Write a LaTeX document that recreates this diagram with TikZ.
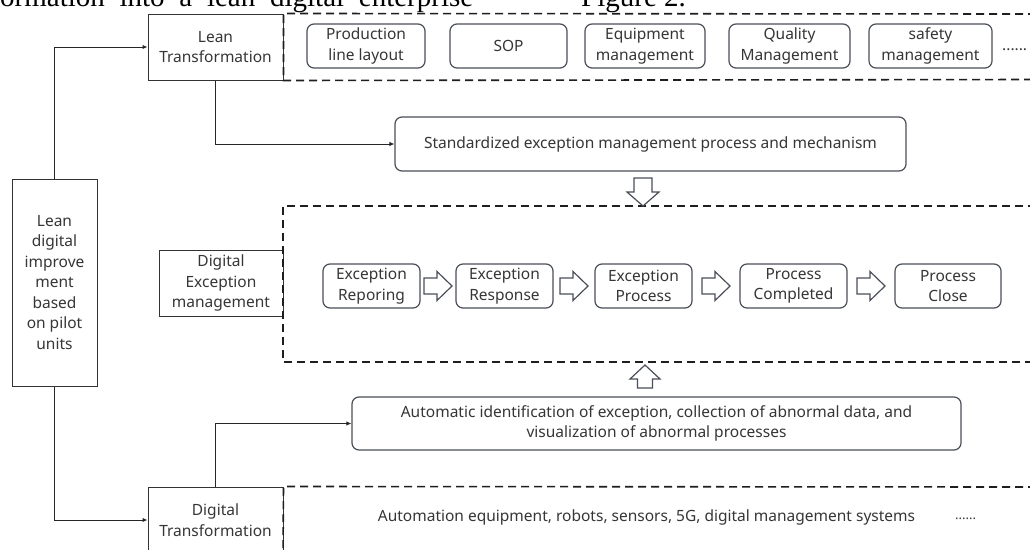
\documentclass[tikz,border=0pt]{standalone}
\usepackage{fontspec}
\setmainfont{Noto Sans}
\newfontfamily\captionserif{Liberation Serif}
\usetikzlibrary{arrows.meta,calc}

\definecolor{ink}{HTML}{363636}
\definecolor{edge}{HTML}{4A4F58}
\definecolor{dashcol}{HTML}{1E1E1E}

% hollow block arrows, drawn round a centre coordinate
\newcommand\hollowright[1]{%
  \draw[hollow, shift={(#1)}] (-14,-8) -- (-1,-8) -- (-1,-14.5) -- (14,0)
    -- (-1,14.5) -- (-1,8) -- (-14,8) -- cycle;}
\newcommand\hollowdown[1]{%
  \draw[hollow, shift={(#1)}] (-9,-14) -- (9,-14) -- (9,0) -- (16,0)
    -- (0,14) -- (-16,0) -- (-9,0) -- cycle;}
\newcommand\hollowup[1]{%
  \draw[hollow, shift={(#1)}] (-7.5,9) -- (7.5,9) -- (7.5,0) -- (15,0)
    -- (0,-14) -- (-15,0) -- (-7.5,0) -- cycle;}

\begin{document}
\begin{tikzpicture}[x=1pt,y=-1pt,
  txt/.style={font=\fontsize{15.5}{20.5}\selectfont, text=ink, align=center, inner sep=0pt},
  plainbox/.style={txt, draw=black!80, line width=1pt},
  roundbox/.style={txt, draw=edge, line width=1.2pt, rounded corners=7pt, minimum height=44pt},
  zone/.style={draw=dashcol, line width=1.6pt, dash pattern=on 8pt off 5pt},
  link/.style={draw=black!85, line width=1pt, -{Latex[length=5pt,width=4.5pt]}},
  hollow/.style={draw=edge, line width=1.2pt, fill=white, line join=miter},
]
\useasboundingbox[fill=white] (0,0) rectangle (1030,549);

% running text of the page above the figure
\node[anchor=base west, inner sep=0pt, font=\captionserif\fontsize{29}{29}\selectfont]
  (capA) at (0,6) {\makebox[473pt][s]{ormation into a lean digital enterprise}};
\node[anchor=base west, inner sep=0pt, font=\captionserif\fontsize{29}{29}\selectfont]
  (capB) at (581,6) {Figure 2.};

% main blocks
\node[plainbox, minimum width=85pt, minimum height=207pt] (pilot) at (54.5,282.5)
  {Lean\\digital\\improve\\ment\\based\\on pilot\\units};
\node[plainbox, minimum width=135pt, minimum height=66pt] (lean) at (215.5,47)
  {Lean\\Transformation};
\node[plainbox, minimum width=124pt, minimum height=66pt] (dexc) at (221,283)
  {Digital\\Exception\\management};
\node[plainbox, minimum width=135pt, minimum height=66pt] (dtrans) at (215.5,520)
  {Digital\\Transformation};

% lean transformation items
\node[roundbox, minimum width=118pt] (lay) at (366,46) {Production\\line layout};
\node[roundbox, minimum width=117pt] (sop) at (508.5,46) {SOP};
\node[roundbox, minimum width=120pt] (eqp) at (645,46) {Equipment\\management};
\node[roundbox, minimum width=121pt] (qua) at (789.5,46) {Quality\\Management};
\node[roundbox, minimum width=123pt] (saf) at (930.5,46) {safety\\management};
\node[txt, anchor=base west] (moreA) at (1002,50) {......};

% standardized process
\node[roundbox, minimum width=511pt, minimum height=54pt] (std) at (650.5,144)
  {Standardized exception management process and mechanism};

% exception handling chain
\node[roundbox, minimum width=97pt] (s1) at (371.5,286) {Exception\\Reporing};
\node[roundbox, minimum width=97pt] (s2) at (504.5,286) {Exception\\Response};
\node[roundbox, minimum width=97pt] (s3) at (643.5,286) {Exception\\Process};
\node[roundbox, minimum width=107pt] (s4) at (793.5,286) {Process\\Completed};
\node[roundbox, minimum width=106pt] (s5) at (948,286) {Process\\Close};

% automatic identification
\node[roundbox, minimum width=609pt, minimum height=53pt] (auto) at (656.5,423.5)
  {Automatic identification of exception, collection of abnormal data, and\\visualization of abnormal processes};

% digital transformation items
\node[txt] (tech) at (646.5,517)
  {Automation equipment, robots, sensors, 5G, digital management systems};
\node[txt, anchor=base west, font=\fontsize{13}{16}\selectfont] (moreB) at (955,519) {......};

% dashed zones
\draw[zone] (1036,14) -- (lean.north east) -- (lean.south east) -- (1036,79.5);
\draw[zone] (1036,206) -- (283,206) -- (283,362) -- (1036,362);
\draw[zone] (1036,487) -- (dtrans.north east) -- (283,556);

% connectors
\draw[link] (pilot.north) |- (lean.west);
\draw[link] (pilot.south) |- (dtrans.west);
\draw[link] (lean.south) |- (std.west);
\draw[link] (dtrans.north) |- (auto.west);

% hollow arrows
\coordinate (h1) at ($(s1.east)!0.5!(s2.west)$);
\coordinate (h2) at ($(s2.east)!0.5!(s3.west)$);
\coordinate (h3) at ($(s3.east)!0.5!(s4.west)$);
\coordinate (h4) at ($(s4.east)!0.5!(s5.west)$);
\hollowright{h1}
\hollowright{h2}
\hollowright{h3}
\hollowright{h4}
\coordinate (hd) at (643,192);
\coordinate (hu) at (645,379);
\hollowdown{hd}
\hollowup{hu}
\end{tikzpicture}
\end{document}
